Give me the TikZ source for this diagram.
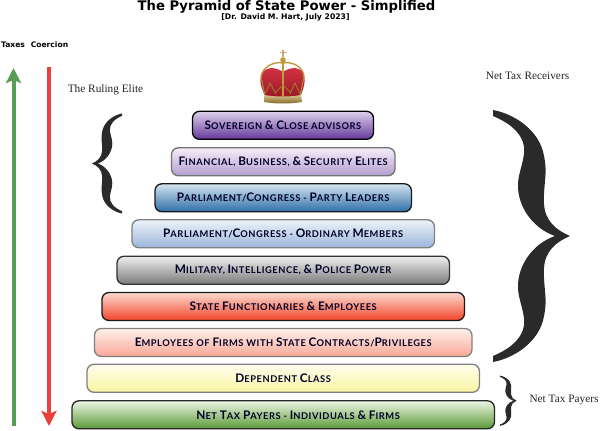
\documentclass[tikz,border=0pt]{standalone}
\usepackage{fontspec}
\setmainfont{Liberation Serif}
\newfontfamily\boxfont{Lato}[LetterSpace=6]
\newfontfamily\headfont{DejaVu Sans}
\usetikzlibrary{arrows.meta}
\newcommand\bc[1]{{\fontsize{11.8}{13}\selectfont #1}}
\definecolor{arrowgreen}{HTML}{5A9E56}
\definecolor{arrowred}{HTML}{E8403A}
\definecolor{braceblack}{HTML}{2A2A2A}
\definecolor{crowngold}{HTML}{C09A3C}
\definecolor{crownred}{HTML}{D01E30}
\definecolor{aT}{HTML}{DDD0EC}\definecolor{aB}{HTML}{64389A}
\definecolor{bT}{HTML}{F4EEF8}\definecolor{bB}{HTML}{B49CD0}
\definecolor{cT}{HTML}{D4E4F0}\definecolor{cB}{HTML}{2E6EA8}
\definecolor{dT}{HTML}{EEF3F9}\definecolor{dB}{HTML}{9AB6DA}
\definecolor{eT}{HTML}{EEEEEE}\definecolor{eB}{HTML}{7A7A7A}
\definecolor{fT}{HTML}{FBDACE}\definecolor{fB}{HTML}{F2442A}
\definecolor{gT}{HTML}{FEF0EA}\definecolor{gB}{HTML}{F9A898}
\definecolor{hT}{HTML}{FEFDEE}\definecolor{hB}{HTML}{FAF5A0}
\definecolor{iT}{HTML}{EDF5E4}\definecolor{iB}{HTML}{5A9A36}
\tikzset{
  tier/.style n args={4}{rounded corners=7pt, shade, top color=#1, bottom color=#2, draw=#3, line width=1.3pt,
    minimum height=28pt, minimum width=#4, inner sep=0pt, text=black!85!blue,
    font=\boxfont\bfseries\fontsize{9.3}{11}\selectfont},
  serifnote/.style={font=\fontsize{11.3}{13}\selectfont, text=black!85, inner sep=0pt},
  headnote/.style={font=\headfont\bfseries\fontsize{7.6}{9}\selectfont, inner sep=0pt},
  flow/.style={line width=4pt}
}
\newcommand\bracepath{
  (0,0) .. controls (-14,-6) and (-25,-15) .. (-26,-32)
  .. controls (-27,-50) and (-22,-62) .. (-26,-80)
  .. controls (-30,-105) and (-55,-122) .. (-77,-126) -- (-77,-120)
  .. controls (-58,-112) and (-44,-100) .. (-46,-82)
  .. controls (-48,-68) and (-52,-62) .. (-52,-50)
  .. controls (-52,-30) and (-38,-8) .. (-15,0)
  .. controls (-38,8) and (-52,30) .. (-52,50)
  .. controls (-52,62) and (-48,68) .. (-46,82)
  .. controls (-44,100) and (-58,112) .. (-77,120) -- (-77,126)
  .. controls (-55,122) and (-30,105) .. (-26,80)
  .. controls (-22,62) and (-27,50) .. (-26,32)
  .. controls (-25,15) and (-14,6) .. (0,0) -- cycle}
\begin{document}
\begin{tikzpicture}[x=1pt,y=-1pt]
\useasboundingbox (0,0) rectangle (600,431);
\fill[white] (0,0) rectangle (600,431);

% titles
\node[font=\headfont\bfseries\fontsize{13.2}{15}\selectfont, inner sep=0pt] (title) at (286.5,7) {The Pyramid of State Power - Simplified};
\node[font=\headfont\bfseries\fontsize{7.7}{9}\selectfont, inner sep=0pt] (subtitle) at (285.5,17) {[Dr. David M. Hart, July 2023]};
\node[headnote] (taxes) at (13,45) {Taxes};
\node[headnote] (coercion) at (49.5,45) {Coercion};
\node[serifnote] (elite) at (105.5,90) {The Ruling Elite};
\node[serifnote] (receivers) at (527.5,76) {Net Tax Receivers};
\node[serifnote] (payers) at (564,400) {Net Tax Payers};

% flows
\coordinate (gs) at (13.5,426);
\coordinate (ge) at (13.5,68);
\coordinate (rs) at (49,67);
\coordinate (re) at (49,426);
\draw[flow, arrowgreen, -{Stealth[length=15pt,width=15pt,inset=3pt]}] (gs) -- (ge);
\draw[flow, arrowred, -{Stealth[length=15pt,width=15pt,inset=3pt]}] (rs) -- (re);

% tiers
\node[tier={aT}{aB}{black}{181pt}] (t1) at (283,125.3) {\bc{S}OVEREIGN \bc{\&} \bc{C}LOSE ADVISORS};
\node[tier={bT}{bB}{black!55}{223.5pt}] (t2) at (283.2,161.8) {\bc{F}INANCIAL, \bc{B}USINESS, \bc{\&} \bc{S}ECURITY \bc{E}LITES};
\node[tier={cT}{cB}{black!90}{256.5pt}] (t3) at (283.2,197.8) {\bc{P}ARLIAMENT/\bc{C}ONGRESS - \bc{P}ARTY \bc{L}EADERS};
\node[tier={dT}{dB}{black!50}{302.5pt}] (t4) at (283.2,233.8) {\bc{P}ARLIAMENT/\bc{C}ONGRESS - \bc{O}RDINARY \bc{M}EMBERS};
\node[tier={eT}{eB}{black!80}{332.5pt}] (t5) at (283.2,270.3) {\bc{M}ILITARY, \bc{I}NTELLIGENCE, \bc{\&} \bc{P}OLICE \bc{P}OWER};
\node[tier={fT}{fB}{black!90}{362.5pt}] (t6) at (283.2,306.5) {\bc{S}TATE \bc{F}UNCTIONARIES \bc{\&} \bc{E}MPLOYEES};
\node[tier={gT}{gB}{black!50}{377.5pt}] (t7) at (283.2,342.5) {\bc{E}MPLOYEES OF \bc{F}IRMS WITH \bc{S}TATE \bc{C}ONTRACTS/\bc{P}RIVILEGES};
\node[tier={hT}{hB}{black!50}{392.5pt}] (t8) at (283.2,378.3) {\bc{D}EPENDENT \bc{C}LASS};
\node[tier={iT}{iB}{black!85}{422.5pt}] (t9) at (283.2,414.8) {\hspace*{30pt}\bc{N}ET \bc{T}AX \bc{P}AYERS - \bc{I}NDIVIDUALS \bc{\&} \bc{F}IRMS};

% braces
\fill[braceblack, shift={(570,236)}] \bracepath;
\fill[braceblack, shift={(92,163.5)}, xscale=-0.39, yscale=0.397] \bracepath;
\fill[braceblack, shift={(516.7,400.7)}, xscale=0.22, yscale=0.2] \bracepath;

% crown
\shade[top color=crownred!90!white, bottom color=crownred!75!black]
  (266,97) .. controls (262,90) and (259,82) .. (261,75)
  .. controls (264,67) and (275,66) .. (283,72)
  .. controls (291,66) and (302,67) .. (304,75)
  .. controls (306,82) and (303,90) .. (300,97) -- cycle;
\draw[crowngold, line width=1.4pt] (261,77) .. controls (262,67) and (274,61) .. (283,63)
  .. controls (292,61) and (304,67) .. (304,77);
\draw[crowngold!90!black, line width=1.1pt] (261,77) -- (265,96) (304,77) -- (300,96);
\draw[crowngold, line width=1.8pt] (283,63) -- (283,96);
\draw[crowngold!80!black, line width=0.9pt] (265,94) -- (270,83) -- (276,94) (290,94) -- (295,83) -- (300,94)
  (275,93) -- (283,85) -- (291,93);
\fill[crowngold] (283,60) circle (2.8);
\draw[crowngold!50!pink!80!gray, line width=1.1pt] (283,49.5) -- (283,57) (279.5,52.5) -- (286.5,52.5);
\shade[top color=crowngold!60!white, bottom color=crowngold!65!black]
  (264,95) .. controls (275,97) and (291,97) .. (301,95) -- (302,102) .. controls (291,104) and (275,104) .. (264,102) -- cycle;
\end{tikzpicture}
\end{document}
